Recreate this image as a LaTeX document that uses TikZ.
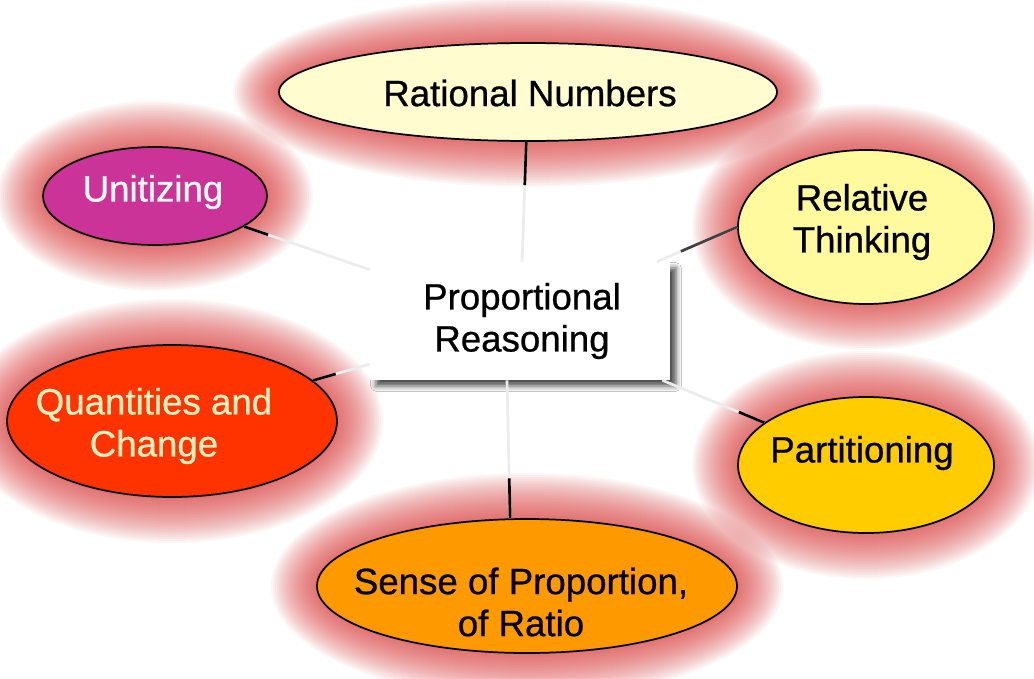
\documentclass[tikz,border=0pt]{standalone}
\usepackage{fontspec}
\setmainfont{Liberation Sans}
\newfontfamily\lblfont{Liberation Sans}[FakeBold=0.7]
\usetikzlibrary{shapes.geometric,shadows.blur}
\definecolor{cRat}{HTML}{FFFCCF}
\definecolor{cUni}{HTML}{CC3399}
\definecolor{cRel}{HTML}{FFFA9E}
\definecolor{cQua}{HTML}{FF3300}
\definecolor{cQtx}{HTML}{FFF2C0}
\definecolor{cPar}{HTML}{FFCC00}
\definecolor{cSen}{HTML}{FF9900}
\definecolor{haloc}{HTML}{DC3232}
\tikzset{
  blob/.style={ellipse, draw=black, line width=1.3pt, inner sep=0pt},
  lbl/.style={font=\lblfont\fontsize{27.5}{31.5}\selectfont, align=center, inner sep=0pt},
  faint/.style={draw=gray!15, line width=2pt},
  dark/.style={draw=black, line width=2pt},
  halo/.style={fill=haloc, fill opacity=0.045},
  centerbox/.style={rectangle, fill=white, minimum width=225pt, minimum height=88.5pt,
    blur shadow={shadow xshift=4.5pt, shadow yshift=-4.5pt, shadow blur radius=4pt, shadow opacity=70}},
}
\newcommand\mkhalo[4]{\foreach \k in {2,4,...,46}{\fill[halo] (#1,#2) ellipse [x radius={(#3+\k)*0.75pt}, y radius={(#4+\k)*0.75pt}];}}
\begin{document}
\begin{tikzpicture}[x=0.75pt,y=-0.75pt]
\fill[white] (0,0) rectangle (1034,678);
\useasboundingbox (0,0) rectangle (1034,678);
% glows
\mkhalo{528}{92}{249}{49}
\mkhalo{155}{196}{112}{49}
\mkhalo{866}{227}{128}{77}
\mkhalo{172}{421}{165}{76}
\mkhalo{866}{465}{128}{68}
\mkhalo{527}{586}{210}{67}
% central box
\node[centerbox] (box) at (520,321) {};
% ellipses
\node[blob, fill=cRat, minimum width=373.5pt, minimum height=73.5pt] (rat) at (528,92) {};
\node[blob, fill=cUni, minimum width=168pt, minimum height=73.5pt] (uni) at (155,196) {};
\node[blob, fill=cRel, minimum width=192pt, minimum height=115.5pt] (rel) at (866,227) {};
\node[blob, fill=cQua, minimum width=247.5pt, minimum height=114pt] (qua) at (172,421) {};
\node[blob, fill=cPar, minimum width=192pt, minimum height=102pt] (par) at (866,465) {};
\node[blob, fill=cSen, minimum width=315pt, minimum height=100.5pt] (sen) at (527,586) {};
% connectors
\draw[faint] (box) -- coordinate[pos=0.64] (ratd) (rat);
\draw[dark] (ratd) -- (rat);
\draw[faint] (box) -- coordinate[pos=0.81] (unid) (uni);
\draw[dark] (unid) -- (uni);
\draw[faint] (box) -- coordinate[pos=0.3] (reld) (rel.west);
\draw[dark, draw=black!75] (reld) -- (rel.west);
\draw[faint] (box) -- coordinate[pos=0.6] (quad) (qua);
\draw[dark] (quad) -- (qua);
\draw[faint] (box) -- coordinate[pos=0.75] (pard) (par);
\draw[dark] (pard) -- (par);
\draw[faint] ([xshift=-9.75pt]box.south) -- coordinate[pos=0.71] (send) (sen.104);
\draw[dark] (send) -- (sen.104);
% labels
\node[lbl] (tbox) at (522,321) {Proportional\\Reasoning};
\node[lbl] (trat) at (530,93) {Rational Numbers};
\node[lbl, text=white] (tuni) at (153,192) {Unitizing};
\node[lbl] (trel) at (862,222) {Relative\\Thinking};
\node[lbl, text=cQtx] (tqua) at (154,426) {Quantities and\\Change};
\node[lbl] (tpar) at (862,453) {Partitioning};
\node[lbl] (tsen) at (521,602) {Sense of Proportion,\\of Ratio};
\end{tikzpicture}
\end{document}
